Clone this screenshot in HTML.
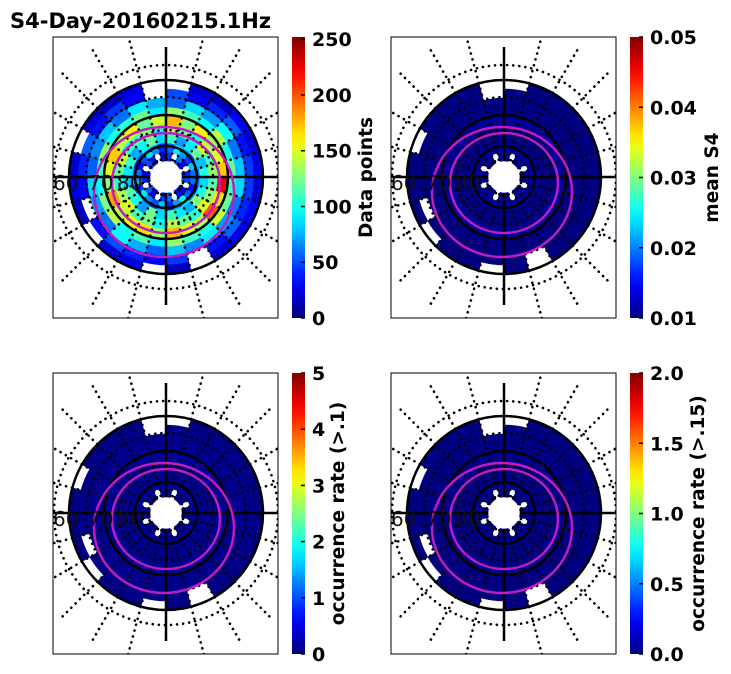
<!DOCTYPE html>
<html><head><meta charset="utf-8"><style>
html,body{margin:0;padding:0;background:#fff;width:731px;height:674px;overflow:hidden}
svg{display:block;font-family:"DejaVu Sans","Liberation Sans",sans-serif}
</style></head><body>
<svg id="s" width="731" height="674" viewBox="0 0 731 674">
<text x="10" y="28" font-size="21" font-weight="bold">S4-Day-20160215.1Hz</text>
</svg>
<script>
// Data points per ring (inner->outer) x 24 sectors (15 deg each, CCW from east); null = no data
const countRings = [
 [40,null,30,60,null,45,20,null,35,50,null,25,40,null,55,30,null,45,60,null,35,20,null,50],
 [60,80,45,70,90,55,40,65,85,50,30,60,75,45,90,65,50,80,40,70,95,55,35,60],
 [100,80,120,90,70,110,85,120,95,75,105,90,80,115,100,70,120,85,110,90,75,125,100,85],
 [130,110,150,100,120,140,95,130,115,105,145,120,100,135,150,110,125,95,140,120,105,150,130,115],
 [170,150,135,160,125,175,145,120,160,140,170,150,130,180,140,160,165,130,175,150,140,200,165,225],
 [120,100,140,95,110,130,90,120,105,100,130,110,95,125,140,100,115,90,130,110,100,145,120,110],
 [80,60,95,70,85,55,75,90,60,80,65,55,85,70,60,95,75,55,80,65,90,70,60,85],
 [45,35,55,40,30,50,null,30,45,35,55,40,30,null,35,50,40,30,45,null,35,55,40,45],
 [25,20,30,15,20,null,null,25,15,20,null,20,25,15,null,20,25,null,15,null,20,25,30,20]
];
// per-ring typical values of the other panels (all near colorbar minimum)
const s4Rings = [0.011,0.011,0.010,0.010,0.011,0.010,0.010,0.010,0.010];
const occ1Rings = [0.1,0.1,0.05,0.05,0.1,0.05,0.05,0.05,0.0];
const occ15Rings = [0.02,0.02,0.0,0.0,0.02,0.0,0.0,0.0,0.0];
const ticks1 = ["0","50","100","150","200","250"];
const ticks2 = ["0.01","0.02","0.03","0.04","0.05"];
const ticks3 = ["0","1","2","3","4","5"];
const ticks4 = ["0.0","0.5","1.0","1.5","2.0"];

const NS="http://www.w3.org/2000/svg", S=document.getElementById('s');
function mk(t,a,p){const e=document.createElementNS(NS,t);for(const k in a)e.setAttribute(k,a[k]);(p||S).appendChild(e);return e;}
function jet(v){v=Math.max(0,Math.min(1,v));
 const r=Math.min(4*v-1.5,-4*v+4.5),g=Math.min(4*v-0.5,-4*v+3.5),b=Math.min(4*v+0.5,-4*v+2.5);
 const c=x=>Math.round(255*Math.max(0,Math.min(1,x)));return `rgb(${c(r)},${c(g)},${c(b)})`;}

const panels=[
 {x:53,y:37,vals:(i,j)=>countRings[i][j],min:0,max:252,ticks:ticks1,tv:[0,50,100,150,200,250],label:"Data points",lx:372,name:"data-points"},
 {x:391,y:37,vals:(i,j)=>countRings[i][j]==null?null:s4Rings[i],min:0.01,max:0.05,ticks:ticks2,tv:[0.01,0.02,0.03,0.04,0.05],label:"mean S4",lx:718,name:"mean-s4"},
 {x:53,y:373,vals:(i,j)=>countRings[i][j]==null?null:occ1Rings[i],min:0,max:5,ticks:ticks3,tv:[0,1,2,3,4,5],label:"occurrence rate (>.1)",lx:344,name:"occurrence-01"},
 {x:391,y:373,vals:(i,j)=>countRings[i][j]==null?null:occ15Rings[i],min:0,max:2,ticks:ticks4,tv:[0,0.5,1,1.5,2],label:"occurrence rate (>.15)",lx:704,name:"occurrence-015"}
];
const W=225,H=281,r0=16,dr=9;
const dots={fill:'none',stroke:'#000','stroke-width':2.6,'stroke-dasharray':'0.1 6','stroke-linecap':'round'};
panels.forEach((p,pi)=>{
 const cx=p.x+113,cy=p.y+140;
 const clipId='c'+pi;
 const cp=mk('clipPath',{id:clipId});mk('rect',{x:p.x,y:p.y,width:W,height:H},cp);
 const g=mk('g',{'clip-path':`url(#${clipId})`});
 
 
 countRings.forEach((ring,i)=>ring.forEach((_,j)=>{
  const v=p.vals(i,j); if(v==null)return;
  const ra=r0+i*dr, rb=ra+dr, a1=j*15*Math.PI/180, a2=(j+1)*15*Math.PI/180;
  const P=(r,a)=>`${(cx+r*Math.cos(a)).toFixed(2)},${(cy-r*Math.sin(a)).toFixed(2)}`;
  const col=jet((v-p.min)/(p.max-p.min));
  const e=mk('path',{d:`M${P(ra,a1)}L${P(rb,a1)}A${rb},${rb} 0 0 0 ${P(rb,a2)}L${P(ra,a2)}A${ra},${ra} 0 0 1 ${P(ra,a1)}Z`,fill:col,stroke:col,'stroke-width':0.6},g);
  
  
 }));
 [18,47,80,112].forEach(r=>mk('circle',Object.assign({cx,cy,r},dots),g));
 for(let k=0;k<24;k++){const a=k*15*Math.PI/180;if(k%6==0)continue;
  mk('line',Object.assign({x1:cx+18*Math.cos(a),y1:cy-18*Math.sin(a),x2:cx+150*Math.cos(a),y2:cy-150*Math.sin(a)},dots),g);}
 [31,62,97].forEach(r=>mk('circle',{cx,cy,r,fill:'none',stroke:'#000','stroke-width':2.5},g));
 mk('line',{x1:cx,y1:p.y+10,x2:cx,y2:cy-16,stroke:'#000','stroke-width':2.5},g);
 mk('line',{x1:cx,y1:cy+16,x2:cx,y2:p.y+H-13,stroke:'#000','stroke-width':2.5},g);
 mk('line',{x1:p.x,y1:cy,x2:cx-16,y2:cy,stroke:'#000','stroke-width':2.5},g);
 mk('line',{x1:cx+16,y1:cy,x2:p.x+W,y2:cy,stroke:'#000','stroke-width':2.5},g);
 mk('ellipse',{cx:cx-2,cy:cy+15,rx:70,ry:65,fill:'none',stroke:'#c01cc0','stroke-width':2.5},g);
 mk('ellipse',{cx:cx,cy:cy+6,rx:54,ry:50,fill:'none',stroke:'#c01cc0','stroke-width':2.5},g);
 [["60",0],["70",35],["80",64]].forEach(([t,dx])=>{const e=mk('text',{x:p.x+dx,y:cy+13,'font-size':20,fill:'#111'},g);e.textContent=t;});
 mk('rect',{x:p.x,y:p.y,width:W,height:H,fill:'none',stroke:'#000','stroke-width':1});
 // colorbar
 const bx=p.x+239, bw=13;
 const gid='gr'+pi;const lg=mk('linearGradient',{id:gid,x1:0,y1:1,x2:0,y2:0});
 for(let s=0;s<=20;s++)mk('stop',{offset:s/20,'stop-color':jet(s/20)},lg);
 const cb=mk('rect',{x:bx,y:p.y,width:bw,height:H,fill:`url(#${gid})`});
 
 
 p.tv.forEach((v,k)=>{const y=p.y+H-(v-p.min)/(p.max-p.min)*H;
  mk('line',{x1:bx+bw-4,y1:y,x2:bx+bw,y2:y,stroke:'#000','stroke-width':1.5});
  const t=mk('text',{x:bx+20,y:y+7,'font-size':19,'font-weight':'bold'});t.textContent=p.ticks[k];
  
  });
 const lt=mk('text',{x:p.lx,y:p.y+H/2,'font-size':18.5,'font-weight':'bold','text-anchor':'middle',transform:`rotate(-90 ${p.lx} ${p.y+H/2})`});
 lt.textContent=p.label;
 
 
});
</script>
</body></html>
